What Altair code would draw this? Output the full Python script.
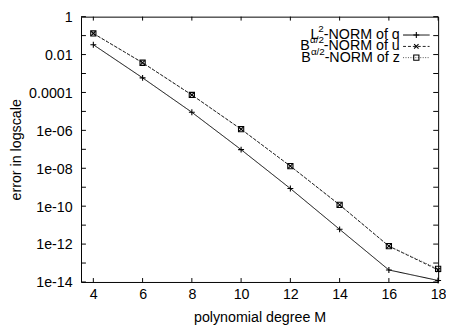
import altair as alt
import pandas as pd

# ---- data ----
M = [4, 6, 8, 10, 12, 14, 16, 18]
q_err = [0.033, 5.9e-4, 9.0e-6, 9.6e-8, 8.5e-10, 6.0e-12, 4.3e-14, 1.2e-14]
u_err = [0.13, 3.7e-3, 7.4e-5, 1.15e-6, 1.3e-8, 1.17e-10, 7.8e-13, 4.3e-14]
z_err = [0.13, 3.7e-3, 7.4e-5, 1.15e-6, 1.3e-8, 1.17e-10, 7.8e-13, 4.9e-14]

x_ticks = [4, 6, 8, 10, 12, 14, 16, 18]
y_label_values = [1, 1e-2, 1e-4, 1e-6, 1e-8, 1e-10, 1e-12, 1e-14]
y_label_texts = ["1", "0.01", "0.0001", "1e-06", "1e-08", "1e-10", "1e-12", "1e-14"]
y_minor = [10.0 ** (-k) for k in range(0, 15)]

FONT = "Liberation Sans"
FS = 14.5
W, H = 363.4, 270

df = pd.DataFrame({
    "M": M * 3,
    "err": q_err + u_err + z_err,
    "series": ["q"] * 8 + ["u"] * 8 + ["z"] * 8,
})

xscale = alt.Scale(domain=[3.5, 18], nice=False, zero=False)
yscale = alt.Scale(type="log", domain=[1e-14, 1], nice=False)

# label expression from the label arrays
expr = "'" + y_label_texts[-1] + "'"
for v, t in reversed(list(zip(y_label_values[:-1], y_label_texts[:-1]))):
    expr = f"datum.value > {v * 0.5} ? '{t}' : " + expr

xaxis = alt.Axis(values=x_ticks, title="polynomial degree M", grid=False, domain=False,
                 ticks=False, labelFontSize=FS, titleFontSize=FS, labelPadding=6,
                 titlePadding=10, labelColor="black", titleColor="black",
                 titleFontWeight="normal", labelFont=FONT, titleFont=FONT,
                 labelFlush=False)
yaxis = alt.Axis(values=y_label_values, labelExpr=expr, title="error in logscale",
                 grid=False, domain=False, ticks=False, labelFontSize=FS,
                 titleFontSize=FS, labelPadding=9, titlePadding=5, labelColor="black",
                 titleColor="black", titleFontWeight="normal", labelFont=FONT,
                 titleFont=FONT, labelFlush=False, labelOffset=1)

X = alt.X("M:Q", scale=xscale, axis=xaxis)
Y = alt.Y("err:Q", scale=yscale, axis=yaxis)

base = alt.Chart(df)
styles = {
    "q": dict(color="black", dash=[1, 0], shape="M-1,0H1M0,-1V1", size=36),
    "u": dict(color="#222222", dash=[3, 2], shape="M-1,-1L1,1M-1,1L1,-1", size=20),
    "z": dict(color="#555555", dash=[1, 1.5], shape="square", size=28),
}

layers = []
for s in ["z", "u", "q"]:
    st = styles[s]
    f = base.transform_filter(alt.datum.series == s)
    layers.append(f.mark_line(color=st["color"], strokeWidth=1, strokeDash=st["dash"]).encode(x=X, y=Y))
    layers.append(f.mark_point(shape=st["shape"], size=st["size"], filled=False,
                               color="black", strokeWidth=1.1, opacity=1).encode(x=X, y=Y))

# inward ticks (gnuplot style)
xt = alt.Chart(pd.DataFrame({"M": x_ticks}))
layers.append(xt.mark_rule(color="black").encode(x=X, y=alt.value(H), y2=alt.value(H - 4)))
layers.append(xt.mark_rule(color="black").encode(x=X, y=alt.value(0), y2=alt.value(4)))
yt = alt.Chart(pd.DataFrame({"err": y_minor}))
layers.append(yt.mark_rule(color="black").encode(y=Y, x=alt.value(0), x2=alt.value(5)))
layers.append(yt.mark_rule(color="black").encode(y=Y, x=alt.value(W - 5), x2=alt.value(W)))

# legend (manual, with superscripts)
legend_rows = [
    ("q", "L", "2", "-NORM of q", 18.7, 8.06, 5.6, 77.3),
    ("u", "B", "\u03b1/2", "-NORM of u", 30.3, 9.9, 14.0, 77.3),
    ("z", "B", "\u03b1/2", "-NORM of z", 41.7, 9.9, 14.0, 76.5),
]
txt_right = 324.4
line_x0, line_x1 = 327.7, 354.7
one = alt.Chart(pd.DataFrame({"a": [0]}))
for s, b, sup, main, yy, wb, ws, wm in legend_rows:
    st = styles[s]
    x0 = txt_right - (wb + ws + wm)
    layers.append(one.mark_text(text=b, align="left", baseline="middle", font=FONT,
                                fontSize=FS, color="black").encode(x=alt.value(x0), y=alt.value(yy)))
    layers.append(one.mark_text(text=sup, align="left", baseline="middle", font=FONT,
                                fontSize=10, color="black").encode(x=alt.value(x0 + wb), y=alt.value(yy - 6)))
    layers.append(one.mark_text(text=main, align="left", baseline="middle", font=FONT,
                                fontSize=FS, color="black").encode(x=alt.value(x0 + wb + ws), y=alt.value(yy)))
    layers.append(one.mark_rule(color=st["color"], strokeWidth=1, strokeDash=st["dash"]).encode(
        x=alt.value(line_x0), x2=alt.value(line_x1), y=alt.value(yy)))
    layers.append(one.mark_point(shape=st["shape"], size=st["size"], filled=False, color="black",
                                 strokeWidth=1.1, opacity=1).encode(
        x=alt.value((line_x0 + line_x1) / 2), y=alt.value(yy)))

chart = alt.layer(*layers).properties(
    width=W, height=H,
    autosize=alt.AutoSizeParams(type="none"),
    padding={"left": 74.3, "top": 6, "right": 8, "bottom": 43},
).configure(font=FONT, background="white").configure_view(stroke="black", strokeWidth=1)

chart.save("out.html", embed_options={"renderer": "svg", "actions": False})
